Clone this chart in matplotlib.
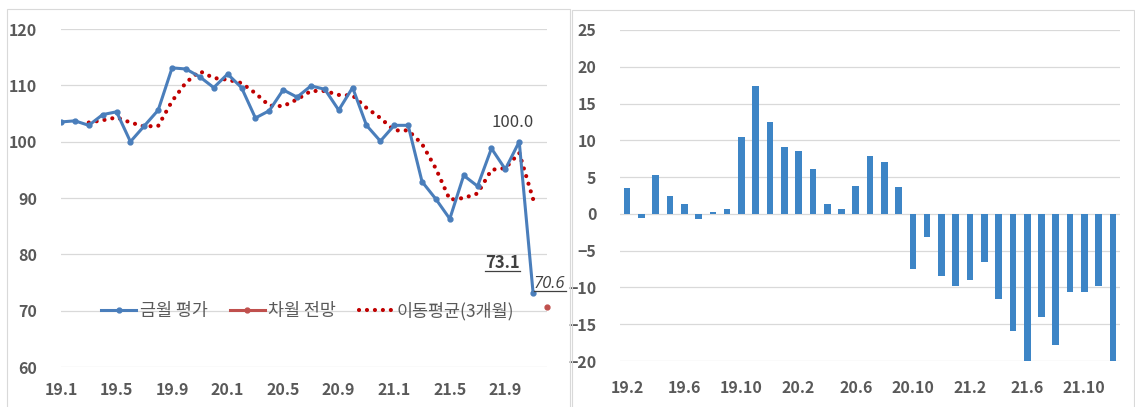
import matplotlib.pyplot as plt
import numpy as np
from matplotlib.patches import Rectangle
from matplotlib.lines import Line2D

plt.rcParams['font.family'] = ['Noto Sans CJK KR', 'DejaVu Sans']

# left chart: 19.1 ~ 21.12 monthly
months = ['19.1', '19.2', '19.3', '19.4', '19.5', '19.6', '19.7', '19.8', '19.9', '19.10', '19.11', '19.12',
          '20.1', '20.2', '20.3', '20.4', '20.5', '20.6', '20.7', '20.8', '20.9', '20.10', '20.11', '20.12',
          '21.1', '21.2', '21.3', '21.4', '21.5', '21.6', '21.7', '21.8', '21.9', '21.10', '21.11', '21.12']
left_ticks = ['19.1', '19.5', '19.9', '20.1', '20.5', '20.9', '21.1', '21.5', '21.9']

# 금월 평가 (19.1 ~ 21.11)
current = [103.5, 103.7, 102.9, 104.8, 105.3, 100.0, 102.8, 105.6, 113.1, 112.9, 111.5, 109.6,
           112.0, 109.6, 104.2, 105.5, 109.2, 107.9, 109.9, 109.3, 105.6, 109.6, 102.9, 100.1,
           102.9, 102.9, 92.9, 89.8, 86.3, 94.0, 92.1, 98.8, 95.1, 100.0, 73.1]
# 이동평균(3개월) (19.3 ~ 21.11)
moving = [103.4, 103.8, 104.3, 103.4, 102.7, 102.8, 107.2, 110.5, 112.5, 111.3,
          111.0, 110.4, 108.6, 106.4, 106.3, 107.5, 109.0, 109.0, 108.3, 108.2, 106.0, 104.2,
          102.0, 102.0, 99.6, 95.2, 89.7, 90.0, 90.8, 95.0, 95.3, 98.0, 89.8]
# 차월 전망 (21.12)
forecast = 70.6

# right chart: 19.2 ~ 21.12
bar_months = months[1:]
right_ticks = ['19.2', '19.6', '19.10', '20.2', '20.6', '20.10', '21.2', '21.6', '21.10']
changes = [3.5, -0.6, 5.3, 2.4, 1.4, -0.7, 0.2, 0.7, 10.5, 17.4, 12.5,
           9.1, 8.6, 6.1, 1.4, 0.7, 3.8, 7.9, 7.1, 3.7, -7.5, -3.1, -8.4,
           -9.8, -9.0, -6.6, -11.6, -15.9, -20.0, -14.0, -17.8, -10.6, -10.6, -9.8, -20.0]

tick_color = '#595959'
grid_color = '#d9d9d9'

fig = plt.figure(figsize=(11.35, 4.07), dpi=100)

# chart borders
fig.patches.append(Rectangle((7 / 1135, -0.01), 563 / 1135, 1 - 9 / 407 + 0.01, transform=fig.transFigure,
                             fill=False, edgecolor='#d9d9d9', lw=0.8))
fig.patches.append(Rectangle((572 / 1135, -0.01), 562 / 1135, 1 - 10 / 407 + 0.01, transform=fig.transFigure,
                             fill=False, edgecolor='#d9d9d9', lw=0.8))

# ---- left chart ----
ax1 = fig.add_axes([61 / 1135, 40 / 407, 486 / 1135, 338 / 407])
x_cur = np.arange(len(current))
x_ma = np.arange(2, 2 + len(moving))
ax1.plot(x_cur, current, color='#4a7ebb', lw=2.2, marker='o', ms=3.5, label='금월 평가', zorder=3)
ax1.plot([len(months) - 1], [forecast], color='#c0504d', lw=2.2, marker='o', ms=3.5, label='차월 전망',
         clip_on=False, zorder=3)
ax1.plot(x_ma, moving, color='#c00000', lw=3.0, linestyle=(0, (0.01, 1.9)), dash_capstyle='round',
         label='이동평균(3개월)', zorder=2)

ax1.set_xlim(0, len(months) - 1)
ax1.set_ylim(60, 120)
ax1.set_yticks(range(60, 121, 10))
ax1.set_xticks([months.index(t) for t in left_ticks])
ax1.set_xticklabels(left_ticks)
ax1.grid(axis='y', color=grid_color, lw=0.9)
ax1.set_axisbelow(True)
for s in ax1.spines.values():
    s.set_visible(False)
ax1.tick_params(length=0, labelsize=11.5, labelcolor=tick_color)
ax1.tick_params(axis='y', pad=17)
ax1.tick_params(axis='x', pad=11)
for lab in ax1.get_xticklabels() + ax1.get_yticklabels():
    lab.set_fontweight('bold')

leg = ax1.legend(loc='center', bbox_to_anchor=(0.508, 0.166), ncol=3, frameon=False,
                 fontsize=12.5, handlelength=2.0, columnspacing=1.3, handletextpad=0.2)
for t in leg.get_texts():
    t.set_color(tick_color)

t100 = ax1.annotate('100.0', (33, current[33]), xytext=(-5, 8), textcoords='offset points',
                    ha='center', va='bottom', fontsize=12, color='#404040')
t73 = ax1.annotate('73.1', (34, current[34]), xytext=(-22, 22), textcoords='offset points',
                   ha='center', va='center', fontsize=12, color='#404040', fontweight='bold')
t70 = ax1.annotate('70.6', (35, forecast), xytext=(2, 17), textcoords='offset points',
                   ha='center', va='center', fontsize=12, color='#404040', style='italic',
                   family=['Open Sans', 'DejaVu Sans'], annotation_clip=False)

# ---- right chart ----
ax2 = fig.add_axes([620 / 1135, 46 / 407, 500 / 1135, 331 / 407])
ax2.bar(np.arange(len(changes)), changes, width=0.47, color='#3d85c6', zorder=3)
ax2.set_xlim(-0.5, len(changes) - 0.5)
ax2.set_ylim(-20, 25)
ax2.set_yticks(range(-20, 26, 5))
ax2.set_xticks([bar_months.index(t) for t in right_ticks])
ax2.set_xticklabels(right_ticks)
ax2.grid(axis='y', color=grid_color, lw=0.9)
ax2.set_axisbelow(True)
for s in ax2.spines.values():
    s.set_visible(False)
ax2.tick_params(length=0, labelsize=11.5, labelcolor=tick_color)
ax2.tick_params(axis='y', pad=17)
ax2.tick_params(axis='x', pad=14)
for lab in ax2.get_xticklabels() + ax2.get_yticklabels():
    lab.set_fontweight('bold')

# underline the two value labels
fig.canvas.draw()
for t in (t73, t70):
    bb = t.get_window_extent()
    y = bb.y0 + 1
    fig.lines.append(Line2D([bb.x0 / 1135, bb.x1 / 1135], [y / 407, y / 407], transform=fig.transFigure,
                            color='#404040', lw=0.9))

fig.savefig('out.png', dpi=100)
